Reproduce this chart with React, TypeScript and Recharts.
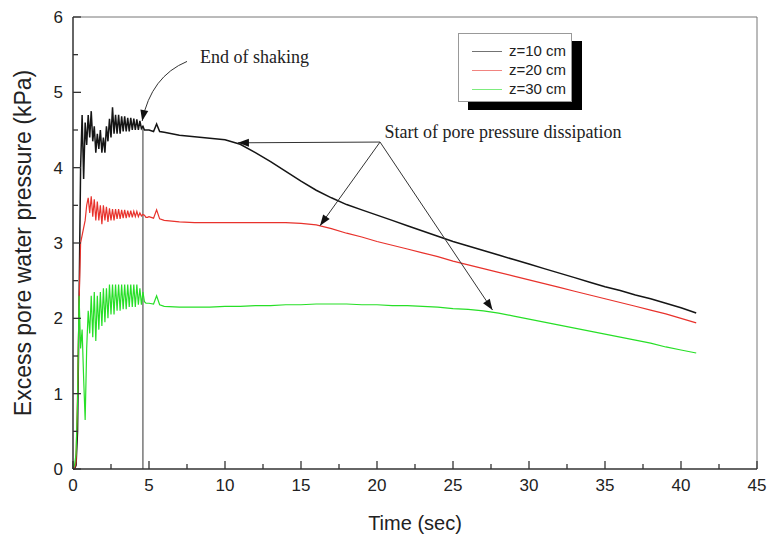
import { LineChart, Line, XAxis, YAxis, ReferenceLine, ReferenceDot, Legend } from 'recharts'

// time axis (sec): fine steps while shaking, coarser afterwards
const time = [
  0, 0.1, 0.2, 0.3, 0.4, 0.5, 0.6, 0.7, 0.8, 0.9,
  1.0, 1.1, 1.2, 1.3, 1.4, 1.5, 1.6, 1.7, 1.8, 1.9,
  2.0, 2.1, 2.2, 2.3, 2.4, 2.5, 2.6, 2.7, 2.8, 2.9,
  3.0, 3.1, 3.2, 3.3, 3.4, 3.5, 3.6, 3.7, 3.8, 3.9,
  4.0, 4.1, 4.2, 4.3, 4.4, 4.5, 4.6, 4.7, 4.8, 4.9,
  5.0, 5.3, 5.5, 5.7,
  6, 7, 8, 9, 10, 11, 12, 13, 14, 15,
  16, 17, 18, 19, 20, 21, 22, 23, 24, 25,
  26, 27, 28, 29, 30, 31, 32, 33, 34, 35,
  36, 37, 38, 39, 40, 41,
]

const z10 = [
  0, 0, 0.05, 0.5, 2.2, 4.0, 4.7, 3.85, 4.6, 4.3,
  4.7, 4.4, 4.75, 4.35, 4.55, 4.2, 4.45, 4.25, 4.5, 4.2,
  4.4, 4.2, 4.55, 4.35, 4.65, 4.4, 4.8, 4.45, 4.7, 4.45,
  4.7, 4.45, 4.68, 4.48, 4.68, 4.48, 4.66, 4.48, 4.66, 4.5,
  4.65, 4.5, 4.64, 4.5, 4.62, 4.52, 4.55, 4.5, 4.5, 4.5,
  4.5, 4.48, 4.58, 4.48,
  4.47, 4.43, 4.41, 4.39, 4.37, 4.31, 4.2, 4.08, 3.95, 3.82,
  3.7, 3.6, 3.51, 3.44, 3.37, 3.3, 3.23, 3.16, 3.09, 3.02,
  2.96, 2.9, 2.84, 2.78, 2.72, 2.66, 2.6, 2.54, 2.48, 2.42,
  2.37, 2.31, 2.26, 2.2, 2.14, 2.07,
]

const z20 = [
  0, 0, 0.1, 1.0, 2.2, 3.0, 3.1, 3.2, 3.3, 3.5,
  3.6, 3.4, 3.62, 3.35, 3.58, 3.3, 3.55, 3.3, 3.5, 3.25,
  3.5, 3.3, 3.48, 3.28, 3.46, 3.3, 3.45, 3.3, 3.45, 3.32,
  3.45, 3.32, 3.44, 3.33, 3.44, 3.33, 3.43, 3.34, 3.43, 3.34,
  3.42, 3.35, 3.42, 3.35, 3.4, 3.36, 3.38, 3.37, 3.34, 3.34,
  3.35, 3.33, 3.44, 3.32,
  3.3, 3.28, 3.27, 3.27, 3.27, 3.27, 3.27, 3.27, 3.27, 3.26,
  3.24, 3.19, 3.13, 3.08, 3.02, 2.97, 2.92, 2.87, 2.82, 2.76,
  2.71, 2.66, 2.61, 2.56, 2.51, 2.46, 2.41, 2.36, 2.31, 2.26,
  2.21, 2.16, 2.11, 2.06, 2.0, 1.94,
]

const z30 = [
  0, 0.05, 0.2, 0.9, 2.3, 1.6, 1.85, 1.2, 0.65, 1.6,
  2.1, 1.8, 2.3, 1.75, 2.35, 1.7, 2.3, 1.85, 2.35, 1.9,
  2.4, 1.95, 2.4, 2.0, 2.45, 2.05, 2.45, 2.05, 2.45, 2.1,
  2.45, 2.1, 2.45, 2.12, 2.45, 2.12, 2.45, 2.15, 2.45, 2.15,
  2.45, 2.15, 2.45, 2.18, 2.4, 2.18, 2.35, 2.22, 2.2, 2.2,
  2.2, 2.19, 2.3, 2.18,
  2.16, 2.15, 2.15, 2.15, 2.16, 2.16, 2.17, 2.17, 2.18, 2.18,
  2.19, 2.19, 2.19, 2.18, 2.18, 2.17, 2.17, 2.16, 2.15, 2.13,
  2.12, 2.1, 2.07, 2.03, 1.99, 1.95, 1.91, 1.87, 1.83, 1.79,
  1.75, 1.71, 1.67, 1.62, 1.58, 1.54,
]

const xTicks = [0, 2.5, 5, 7.5, 10, 12.5, 15, 17.5, 20, 22.5, 25, 27.5, 30, 32.5, 35, 37.5, 40, 42.5, 45]
const yTicks = [0, 0.5, 1, 1.5, 2, 2.5, 3, 3.5, 4, 4.5, 5, 5.5, 6]

const series = [
  { key: 'z10', label: 'z=10 cm', color: '#151515', width: 1.5 },
  { key: 'z20', label: 'z=20 cm', color: '#e8322c', width: 1.2 },
  { key: 'z30', label: 'z=30 cm', color: '#27df27', width: 1.2 },
]

const data = time.map((t, i) => ({ t, z10: z10[i], z20: z20[i], z30: z30[i] }))

const SANS = '"Liberation Sans", Arial, sans-serif'
const SERIF = '"Liberation Serif", "Times New Roman", serif'
const AXIS = '#333'

function XTick({ x, y, payload }: any) {
  const major = payload.value % 5 === 0
  return (
    <g>
      <line x1={x} x2={x} y1={y} y2={y - (major ? 8 : 5)} stroke={AXIS} strokeWidth={1.3} />
      {major && (
        <text x={x} y={y + 22} textAnchor="middle" fontSize={17} fill="#222" fontFamily={SANS}>
          {payload.value}
        </text>
      )}
    </g>
  )
}

function YTick({ x, y, payload }: any) {
  const major = Number.isInteger(payload.value)
  return (
    <g>
      <line x1={x} x2={x + (major ? 8 : 5)} y1={y} y2={y} stroke={AXIS} strokeWidth={1.3} />
      {major && (
        <text x={x - 10} y={y + 6} textAnchor="end" fontSize={17} fill="#222" fontFamily={SANS}>
          {payload.value}
        </text>
      )}
    </g>
  )
}

function headPoints(fx: number, fy: number, tx: number, ty: number, len = 11, w = 4) {
  const a = Math.atan2(ty - fy, tx - fx)
  const bx = tx - len * Math.cos(a)
  const by = ty - len * Math.sin(a)
  const px = -Math.sin(a) * w
  const py = Math.cos(a) * w
  return `${tx},${ty} ${bx + px},${by + py} ${bx - px},${by - py}`
}

function StraightArrow(p: any) {
  const { x1, y1, x2, y2 } = p
  return (
    <g>
      <line x1={x1} y1={y1} x2={x2} y2={y2} stroke="#333" strokeWidth={1} />
      <polygon points={headPoints(x1, y1, x2, y2)} fill="#111" />
    </g>
  )
}

function CurvedArrow(p: any) {
  const { x1, y1, x2, y2 } = p
  const cx = x2 + (x1 - x2) * 0.2
  const cy = y1 + (y2 - y1) * 0.25
  return (
    <g>
      <path d={`M${x1},${y1} Q${cx},${cy} ${x2},${y2}`} fill="none" stroke="#333" strokeWidth={1} />
      <polygon points={headPoints(cx, cy, x2, y2)} fill="#111" />
    </g>
  )
}

function noteText(text: string) {
  return (p: any) => (
    <text x={p.cx} y={p.cy} dominantBaseline="central" fontSize={18} fill="#222" fontFamily={SERIF}>
      {text}
    </text>
  )
}

function LegendBox() {
  return (
    <div style={{ position: 'relative', width: 114, height: 69 }}>
      <div style={{ position: 'absolute', left: 10, top: 8, width: 114, height: 69, background: '#000' }} />
      <div
        style={{
          position: 'absolute', left: 0, top: 0, width: 112, height: 67,
          background: '#fff', border: '1px solid #999',
        }}
      >
        {series.map((s, i) => (
          <div key={s.key} style={{ position: 'absolute', left: 13, top: 8 + i * 19, height: 18, display: 'flex', alignItems: 'center' }}>
            <span style={{ display: 'inline-block', width: 30, height: 1, background: s.color, opacity: 0.6 }} />
            <span style={{ marginLeft: 7, fontSize: 15, fontFamily: SANS, color: '#222', lineHeight: '18px' }}>{s.label}</span>
          </div>
        ))}
      </div>
    </div>
  )
}

export default function App() {
  return (
    <div style={{ position: 'absolute', left: 0, top: 0, width: 768, height: 541, background: '#fff' }}>
      <LineChart width={768} height={541} data={data} margin={{ top: 17, right: 11, bottom: 0, left: 0 }}>
        <XAxis
          dataKey="t"
          type="number"
          domain={[0, 45]}
          ticks={xTicks}
          interval={0}
          height={72}
          tickSize={0}
          tickMargin={0}
          tickLine={false}
          tick={<XTick />}
          axisLine={{ stroke: AXIS, strokeWidth: 1.5 }}
          label={{ value: 'Time (sec)', position: 'center', dy: 18, fontSize: 20, fill: '#222', fontFamily: SANS }}
        />
        <YAxis
          type="number"
          domain={[0, 6]}
          ticks={yTicks}
          interval={0}
          width={73}
          tickSize={0}
          tickMargin={0}
          tickLine={false}
          tick={<YTick />}
          axisLine={{ stroke: AXIS, strokeWidth: 1.5 }}
          label={{ value: 'Excess pore water pressure (kPa)', angle: -90, position: 'center', dx: -14, fontSize: 23, fill: '#222', fontFamily: SANS }}
        />
        <ReferenceLine y={6} stroke="#777" strokeWidth={1} />
        <ReferenceLine x={45} stroke="#777" strokeWidth={1} />
        <ReferenceLine segment={[{ x: 4.6, y: 0 }, { x: 4.6, y: 4.55 }]} stroke="#555" strokeWidth={1.2} />
        {series.map((s) => (
          <Line
            key={s.key}
            dataKey={s.key}
            name={s.label}
            stroke={s.color}
            strokeWidth={s.width}
            dot={false}
            isAnimationActive={false}
          />
        ))}
        <ReferenceLine segment={[{ x: 7.5, y: 5.41 }, { x: 4.55, y: 4.62 }]} shape={CurvedArrow} />
        <ReferenceDot x={8.36} y={5.47} r={0} shape={noteText('End of shaking')} />
        <ReferenceLine segment={[{ x: 20.2, y: 4.34 }, { x: 10.85, y: 4.33 }]} shape={StraightArrow} />
        <ReferenceLine segment={[{ x: 20.2, y: 4.34 }, { x: 16.25, y: 3.23 }]} shape={StraightArrow} />
        <ReferenceLine segment={[{ x: 20.2, y: 4.34 }, { x: 27.6, y: 2.11 }]} shape={StraightArrow} />
        <ReferenceDot x={20.5} y={4.47} r={0} shape={noteText('Start of pore pressure dissipation')} />
        <Legend
          layout="vertical"
          align="center"
          verticalAlign="middle"
          content={() => <LegendBox />}
          wrapperStyle={{ left: 458, top: 33, width: 124, height: 77 }}
        />
      </LineChart>
    </div>
  )
}
